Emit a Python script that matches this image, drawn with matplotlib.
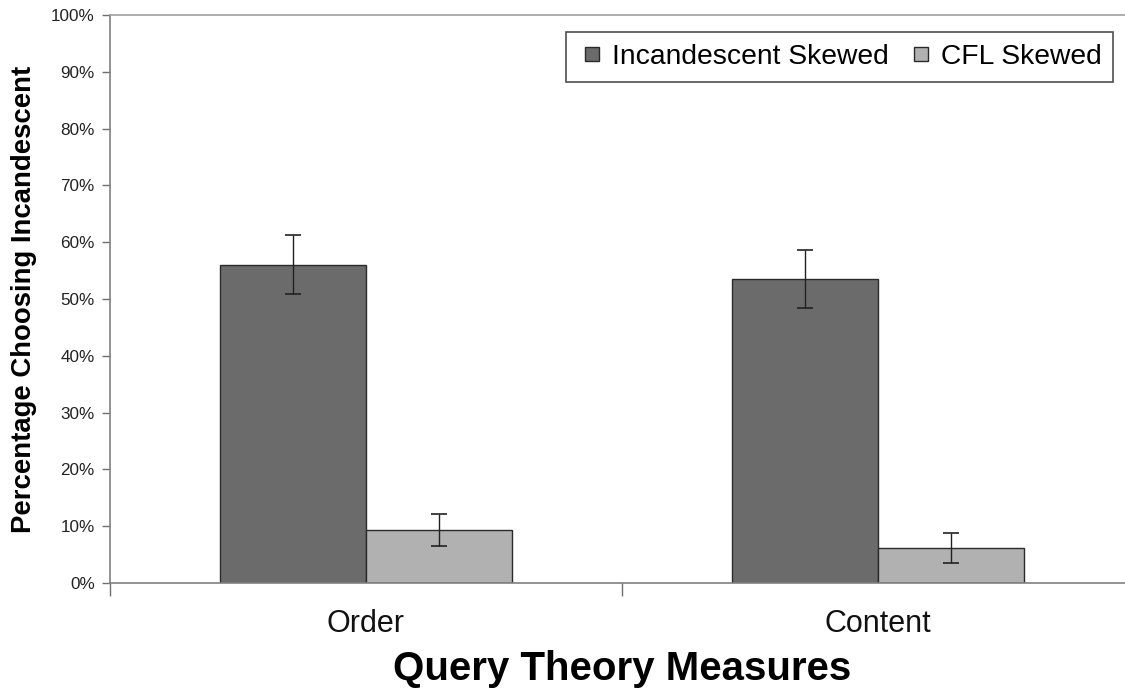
import matplotlib
matplotlib.use("Agg")
import matplotlib.pyplot as plt
import numpy as np
from matplotlib.ticker import FixedLocator, PercentFormatter
from matplotlib.lines import Line2D

categories = ["Order", "Content"]
series_names = ["Incandescent Skewed", "CFL Skewed"]
incandescent = [56.0, 53.6]
incandescent_err = [5.2, 5.1]
cfl = [9.3, 6.1]
cfl_err = [2.8, 2.65]
y_ticks = [0, 10, 20, 30, 40, 50, 60, 70, 80, 90, 100]

plt.rcParams['font.family'] = ['Liberation Sans', 'DejaVu Sans']

fig = plt.figure(figsize=(11.25, 6.9), dpi=100)
ax = fig.add_axes([110/1125, (690-583)/690, 1024/1125, 568/690])

x = np.arange(len(categories))
w = 0.285
dark = '#6b6b6b'
light = '#b1b1b1'
edge = '#2a2a2a'
ax.bar(x - w/2, incandescent, w, color=dark, edgecolor=edge, linewidth=1.0, zorder=2)
ax.bar(x + w/2, cfl, w, color=light, edgecolor=edge, linewidth=1.0, zorder=2)
ax.errorbar(x - w/2, incandescent, yerr=incandescent_err, fmt='none',
            ecolor='#222222', elinewidth=1.0, capsize=6, capthick=1.2, zorder=3)
ax.errorbar(x + w/2, cfl, yerr=cfl_err, fmt='none',
            ecolor='#222222', elinewidth=1.0, capsize=6, capthick=1.2, zorder=3)

ax.set_xlim(-0.5, 1.5)
ax.set_ylim(0, 100)
ax.yaxis.set_major_locator(FixedLocator(y_ticks))
ax.yaxis.set_major_formatter(PercentFormatter(decimals=0))
ax.set_xticks(x)
ax.set_xticklabels(categories, fontsize=22, color='#111111')
ax.xaxis.set_minor_locator(FixedLocator([-0.5, 0.5, 1.5]))
ax.tick_params(axis='x', which='major', length=0, pad=19)
ax.tick_params(axis='x', which='minor', length=9, width=1.0, color='#707070')
ax.tick_params(axis='y', length=6, width=1.0, color='#707070', labelsize=12.3,
               labelcolor='#222222', pad=5)

for s in ['left', 'bottom', 'top']:
    ax.spines[s].set_color('#808080')
    ax.spines[s].set_linewidth(1.2)
ax.spines['right'].set_visible(False)
ax.spines['top'].set_color('#a0a0a0')

ax.set_xlabel("Query Theory Measures", fontsize=29, fontweight='bold', labelpad=8)
ax.set_ylabel("Percentage Choosing Incandescent", fontsize=19.8, fontweight='bold',
              labelpad=10)

handles = [
    Line2D([], [], linestyle='none', marker='s', markersize=10.5,
           markerfacecolor=dark, markeredgecolor=edge, markeredgewidth=1.0),
    Line2D([], [], linestyle='none', marker='s', markersize=10.5,
           markerfacecolor=light, markeredgecolor=edge, markeredgewidth=1.0),
]
leg = ax.legend(handles, series_names, loc='upper left',
                bbox_to_anchor=(566/1125, 1 - 32/690),
                bbox_transform=fig.transFigure, ncol=2, fontsize=20.3,
                frameon=True, fancybox=False, edgecolor='#222222',
                handlelength=1.0, handletextpad=0.2,
                columnspacing=0.65, borderpad=0.42, borderaxespad=0)
leg.get_frame().set_linewidth(1.2)

fig.savefig("out.png", dpi=100)
